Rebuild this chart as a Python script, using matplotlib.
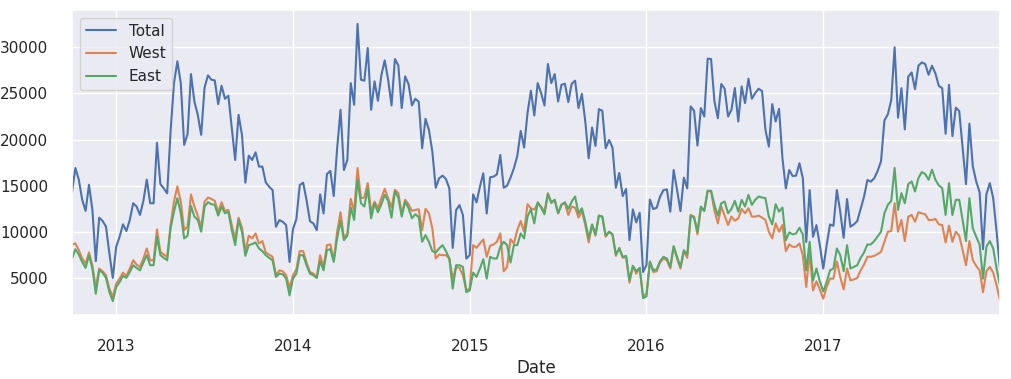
import numpy as np
import pandas as pd
import matplotlib
matplotlib.use("Agg")
import matplotlib.pyplot as plt
import seaborn as sns

# weekly counts, Oct 2012 .. Dec 2017
first_week = "2012-10-07"

total = [14370, 16920, 15650, 13470, 12270, 15100, 12380, 6820, 11540, 11180,
         10560, 7650, 5000, 8380, 9470, 10810, 10090, 11290, 13100, 12740,
         11830, 13360, 15650, 13100, 13100, 19650, 15170, 14710, 14170, 20870,
         26120, 28480, 26120, 19420, 20600, 27100, 24130, 22680, 20510, 25650,
         26960, 26490, 26410, 23840, 25830, 24420, 24750, 21230, 17790, 22680,
         20510, 15330, 18260, 17790, 18620, 17070, 17070, 15360, 14890, 14530,
         10550, 11270, 11090, 10730, 6740, 10290, 11380, 15070, 15330, 13440,
         11160, 10910, 10180, 14060, 11990, 16270, 16600, 13880, 19060, 23230,
         16700, 17790, 26120, 23770, 32540, 26490, 26380, 29930, 23230, 26310,
         24200, 26960, 28590, 26490, 23700, 28730, 28040, 23410, 26850, 26020,
         23700, 24420, 24100, 19060, 22250, 21050, 18700, 14780, 15800, 16090,
         15730, 14710, 8260, 12360, 12900, 11810, 7100, 7470, 14060, 13190,
         14890, 16340, 11990, 15910, 15980, 16230, 18330, 14780, 15000, 15870,
         16890, 18230, 20940, 19130, 22860, 25300, 22610, 26120, 25040, 23700,
         28190, 26120, 27100, 24130, 25940, 26050, 24060, 26050, 26380, 23410,
         24960, 21960, 17970, 21310, 19310, 23300, 23120, 19060, 19960, 19130,
         14780, 16380, 13880, 14640, 9100, 12430, 11020, 12070, 5650, 6400,
         13500, 12470, 12610, 13810, 14530, 14600, 12180, 16700, 14530, 12250,
         15870, 14710, 23590, 23120, 19350, 23410, 22500, 28770, 28730, 24130,
         22320, 26020, 25510, 22500, 23230, 25580, 21960, 25760, 23950, 26600,
         24420, 25040, 25510, 25250, 21050, 19240, 23840, 21960, 23330, 17970,
         14710, 16700, 16050, 16090, 17430, 15800, 8910, 14530, 9460, 10730,
         8550, 6020, 8550, 10800, 10650, 14530, 12180, 9350, 13550, 10550,
         10800, 11160, 12470, 13810, 15620, 15440, 15800, 16600, 17650, 22080,
         22730, 24260, 30000, 22370, 25570, 21100, 26800, 27280, 25460, 28000,
         28370, 28180, 27020, 28000, 27170, 25820, 25570, 20630, 25930, 20370,
         23460, 23100, 19100, 15170, 21720, 17100, 15460, 14300, 8120, 14080,
         15280, 13650, 10010, 6020]

west = [8630, 8740, 8020, 7110, 6560, 7760, 6380, 3910, 6020, 5730,
        5290, 3840, 2930, 4380, 4930, 5580, 5220, 6020, 6920, 6450,
        6200, 7110, 8200, 6920, 6920, 10270, 7830, 7540, 7290, 10740,
        13280, 14920, 13280, 10190, 10560, 14050, 12740, 11760, 10450, 13280,
        13720, 13570, 13360, 12120, 13210, 12270, 12380, 10740, 9210, 11540,
        10450, 7910, 9580, 9290, 9830, 8740, 9000, 7760, 7540, 7290,
        5290, 5830, 5730, 5290, 3910, 5290, 5940, 7910, 7910, 6670,
        5650, 5470, 5110, 7470, 6200, 8560, 8630, 6920, 10010, 12120,
        9360, 9830, 13570, 12190, 16920, 13650, 13720, 15280, 12190, 13280,
        12560, 13650, 14660, 13650, 12630, 14560, 14190, 11900, 13470, 12990,
        12270, 12380, 12450, 10190, 12480, 12010, 10380, 7110, 7540, 7470,
        7470, 7110, 4930, 6200, 6090, 5290, 3650, 3840, 8560, 8270,
        8740, 9180, 7290, 8490, 8630, 8920, 9830, 5730, 6200, 9210,
        8740, 10190, 11180, 10010, 12990, 12550, 12400, 13100, 12740, 12190,
        14190, 13100, 13470, 12010, 12990, 13100, 11830, 12740, 12630, 11540,
        12270, 10740, 8850, 10740, 9580, 11760, 11650, 9470, 10010, 9720,
        7400, 8270, 7180, 7290, 4490, 6310, 5470, 6090, 3040, 3290,
        6700, 5650, 5730, 6670, 7110, 6920, 6020, 8380, 7110, 6020,
        7910, 7180, 11830, 11650, 9720, 12560, 12270, 14450, 14370, 12270,
        10920, 12740, 11760, 10740, 11650, 11200, 11470, 12480, 12010, 12560,
        11650, 11650, 11760, 11540, 11290, 10010, 9290, 10920, 10010, 10740,
        7910, 8630, 8380, 8380, 8740, 7470, 4020, 7830, 3650, 4640,
        3760, 2750, 4020, 4930, 4930, 6800, 5110, 3760, 6020, 4740,
        4850, 5000, 5830, 6450, 7300, 7300, 7400, 7600, 7830, 8920,
        10010, 10090, 13100, 10010, 11290, 9000, 11650, 11830, 11100, 12120,
        12010, 11900, 11290, 11290, 11400, 10810, 10740, 8850, 10670, 8920,
        10010, 9580, 8020, 6380, 9000, 6920, 6310, 5830, 3470, 5730,
        6200, 5580, 4200, 2560]

east = [7110, 8120, 7540, 6740, 6090, 7470, 6020, 3290, 5830, 5580,
        5000, 3470, 2490, 4020, 4560, 5220, 5000, 5650, 6380, 6090,
        5830, 6670, 7470, 6380, 6380, 9470, 7470, 7180, 6920, 10380,
        12190, 13650, 12010, 9290, 9580, 12800, 11650, 11290, 10010, 12740,
        13210, 12990, 12920, 11760, 12740, 12010, 12190, 10190, 8560, 11290,
        10010, 7400, 8560, 8670, 8850, 8200, 7910, 7470, 7180, 6920,
        5110, 5470, 5400, 4930, 3110, 4930, 5470, 7470, 7470, 6380,
        5470, 5290, 5000, 6820, 5830, 8010, 8120, 6740, 9290, 11180,
        9100, 9580, 12630, 11290, 15650, 13100, 12740, 14660, 11470, 13100,
        12120, 12990, 14010, 13360, 11540, 14370, 13720, 11650, 13280, 12560,
        11470, 11900, 11600, 8920, 9650, 8920, 7910, 7760, 8200, 8560,
        7910, 7110, 3840, 6380, 6380, 6200, 3470, 3650, 5580, 5110,
        6020, 7030, 4930, 7290, 7110, 7110, 8380, 8920, 8560, 6670,
        8560, 8560, 9830, 9290, 11650, 12460, 10920, 13210, 12630, 11900,
        14080, 13210, 13470, 12010, 12920, 13210, 12480, 13280, 13830, 12010,
        12560, 11100, 9290, 10810, 9720, 11760, 11650, 9580, 10010, 9720,
        7540, 8200, 7290, 7400, 4740, 6310, 5730, 6090, 2820, 3000,
        6800, 5830, 5940, 6820, 7290, 7110, 6200, 8450, 7290, 6200,
        8010, 7540, 11760, 11540, 10010, 12740, 12270, 14450, 14450, 12920,
        11760, 13100, 13280, 12010, 12480, 13360, 12190, 13470, 12740, 14010,
        12920, 13470, 13830, 13720, 13650, 11650, 10810, 12990, 12190, 12630,
        9100, 9940, 9720, 9830, 10450, 9720, 5830, 8920, 4740, 6020,
        4640, 3540, 4560, 5830, 6020, 8200, 7470, 5730, 8560, 6020,
        6200, 6380, 7180, 7760, 8630, 8630, 9000, 9500, 10010, 12010,
        12920, 13360, 16920, 12380, 14190, 13100, 15170, 15460, 14370, 15830,
        16480, 16260, 15650, 16740, 15650, 15030, 14740, 11830, 15280, 11830,
        13470, 13470, 11290, 9000, 13650, 10380, 9470, 8630, 4930, 8380,
        9000, 8200, 6020, 4200]

dates = pd.date_range(first_week, periods=len(total), freq="W")
weekly = pd.DataFrame({"Total": total, "West": west, "East": east}, index=dates)

sns.set_theme()

fig = plt.figure(figsize=(10.11, 3.79), dpi=100)
ax = fig.add_axes([72 / 1011, 1 - 315 / 379, 928 / 1011, 305 / 379])

for col in weekly.columns:
    ax.plot(weekly.index, weekly[col], label=col)

ax.set_xlim(weekly.index[0], weekly.index[-1])

# year ticks sit on the week that holds 1 January (like pandas period axes)
years = sorted(set(weekly.index.year))[1:]
tick_pos = [weekly.index[weekly.index >= pd.Timestamp(y, 1, 1)][0] for y in years]
ax.set_xticks(tick_pos)
ax.set_xticklabels([str(y) for y in years])
ax.tick_params(axis="both", pad=11)

ax.set_xlabel("Date")
ax.legend(loc="upper left")

fig.savefig("out.png", dpi=100)
